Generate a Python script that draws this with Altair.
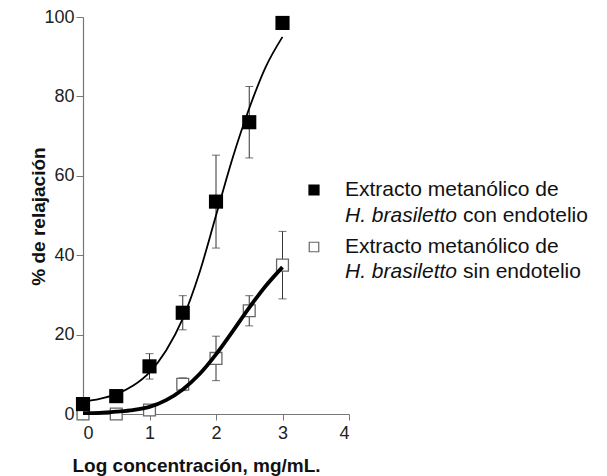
import altair as alt
import pandas as pd

# Mean relaxation (%) at each log concentration, with error (+/-)
log_conc = [0, 0.5, 1, 1.5, 2, 2.5, 3]
con_mean = [2.5, 4.5, 12.0, 25.5, 53.5, 73.5, 98.5]
con_err = [1.0, 1.6, 3.2, 4.3, 11.7, 9.0, 1.0]
sin_mean = [0.0, 0.0, 1.0, 7.5, 14.0, 26.0, 37.5]
sin_err = [0.5, 0.5, 0.8, 1.6, 5.6, 3.8, 8.5]

# Fitted concentration-response curves
fit_x = [0, 0.25, 0.5, 0.75, 1, 1.25, 1.5, 1.75, 2, 2.25, 2.5, 2.75, 3]
con_fit = [3.1, 3.8, 5.0, 7.1, 10.5, 16.0, 24.0, 35.5, 50.0, 64.5, 77.0, 87.5, 95.0]
sin_fit = [0.2, 0.3, 0.6, 1.0, 1.8, 3.5, 6.2, 10.0, 15.0, 20.8, 26.8, 32.3, 37.0]

FONT = "Liberation Sans"
AXIS_GRAY = "#777777"

pts = pd.DataFrame({
    "x": log_conc * 2,
    "mean": con_mean + sin_mean,
    "err": con_err + sin_err,
    "grupo": ["con"] * len(log_conc) + ["sin"] * len(log_conc),
})
pts["lo"] = pts["mean"] - pts["err"]
pts["hi"] = pts["mean"] + pts["err"]

fit_con = pd.DataFrame({"x": fit_x, "y": con_fit})
fit_sin = pd.DataFrame({"x": fit_x, "y": sin_fit})
one_row = pd.DataFrame({"k": [0]})

xscale = alt.Scale(domain=[0, 4], nice=False, zero=False)
yscale = alt.Scale(domain=[0, 100], nice=False)

x_axis = alt.Axis(
    values=[0, 1, 2, 3, 4], format="d", title="Log concentración, mg/mL.",
    titleX=113, titleY=51, titleBaseline="middle",
    tickSize=6, labelPadding=4,
)
y_axis = alt.Axis(
    values=[0, 20, 40, 60, 80, 100], title="% de relajación",
    titleX=-45, titleY=199, titleBaseline="middle",
    tickSize=7, labelPadding=2,
)

base = alt.Chart(pts)

bars = base.mark_rule(color="#333333", strokeWidth=1).encode(
    x=alt.X("x:Q", scale=xscale, axis=x_axis),
    y=alt.Y("lo:Q", scale=yscale, axis=y_axis),
    y2="hi:Q",
)
caps_hi = base.mark_tick(orient="horizontal", size=8, thickness=1, color="#333333").encode(
    x=alt.X("x:Q", scale=xscale), y=alt.Y("hi:Q", scale=yscale)
)
caps_lo = base.mark_tick(orient="horizontal", size=8, thickness=1, color="#333333").encode(
    x=alt.X("x:Q", scale=xscale), y=alt.Y("lo:Q", scale=yscale)
)

open_pts = base.transform_filter(alt.datum.grupo == "sin").mark_point(
    shape="square", size=140, filled=True, fill="white", stroke="#666666",
    strokeWidth=1.3, opacity=1, clip=False,
).encode(x=alt.X("x:Q", scale=xscale), y=alt.Y("mean:Q", scale=yscale))

line_con = alt.Chart(fit_con).mark_line(
    color="black", strokeWidth=1.8, interpolate="monotone"
).encode(x=alt.X("x:Q", scale=xscale), y=alt.Y("y:Q", scale=yscale))

line_sin = alt.Chart(fit_sin).mark_line(
    color="black", strokeWidth=3.8, interpolate="monotone"
).encode(x=alt.X("x:Q", scale=xscale), y=alt.Y("y:Q", scale=yscale))

filled_pts = base.transform_filter(alt.datum.grupo == "con").mark_point(
    shape="square", size=200, filled=True, color="black", opacity=1, clip=False,
).encode(x=alt.X("x:Q", scale=xscale), y=alt.Y("mean:Q", scale=yscale))

# Legend drawn by hand: two-line labels with an italic species name
LX = 262
LEG_SIZE = 21
leg_items = []
rows = [
    (173, 199, "con endotelio", dict(fill="black", stroke="black", size=100)),
    (230, 255, "sin endotelio", dict(fill="white", stroke="#666666", size=90)),
]
for y1, y2, tail, sym in rows:
    leg = alt.Chart(one_row)
    leg_items.append(
        leg.mark_point(
            shape="square", filled=True, strokeWidth=1.2, opacity=1, **sym
        ).encode(x=alt.value(231), y=alt.value(y1))
    )
    leg_items.append(
        leg.mark_text(
            text="Extracto metanólico de", align="left", baseline="middle",
            font=FONT, fontSize=LEG_SIZE, color="#111111",
        ).encode(x=alt.value(LX), y=alt.value(y1))
    )
    leg_items.append(
        leg.mark_text(
            text="H. brasiletto", align="left", baseline="middle", fontStyle="italic",
            font=FONT, fontSize=LEG_SIZE, color="#111111",
        ).encode(x=alt.value(LX), y=alt.value(y2))
    )
    leg_items.append(
        leg.mark_text(
            text=tail, align="left", baseline="middle",
            font=FONT, fontSize=LEG_SIZE, color="#111111",
        ).encode(x=alt.value(LX + 118), y=alt.value(y2))
    )

chart = alt.layer(
    bars, caps_hi, caps_lo, open_pts, line_con, line_sin, filled_pts, *leg_items
).properties(
    width=266, height=397,
    padding={"left": 83, "top": 17, "right": 258, "bottom": 62},
    autosize=alt.AutoSizeParams(type="none"),
    background="white",
).configure_view(stroke=None).configure_axis(
    grid=False, domainColor=AXIS_GRAY, tickColor=AXIS_GRAY, domainWidth=1.2,
    labelFont=FONT, labelFontSize=18, labelColor="#222222",
    titleFont=FONT, titleFontSize=19, titleFontWeight="bold", titleColor="#111111",
)

chart.save("out.html", embed_options={"renderer": "svg", "actions": False})
